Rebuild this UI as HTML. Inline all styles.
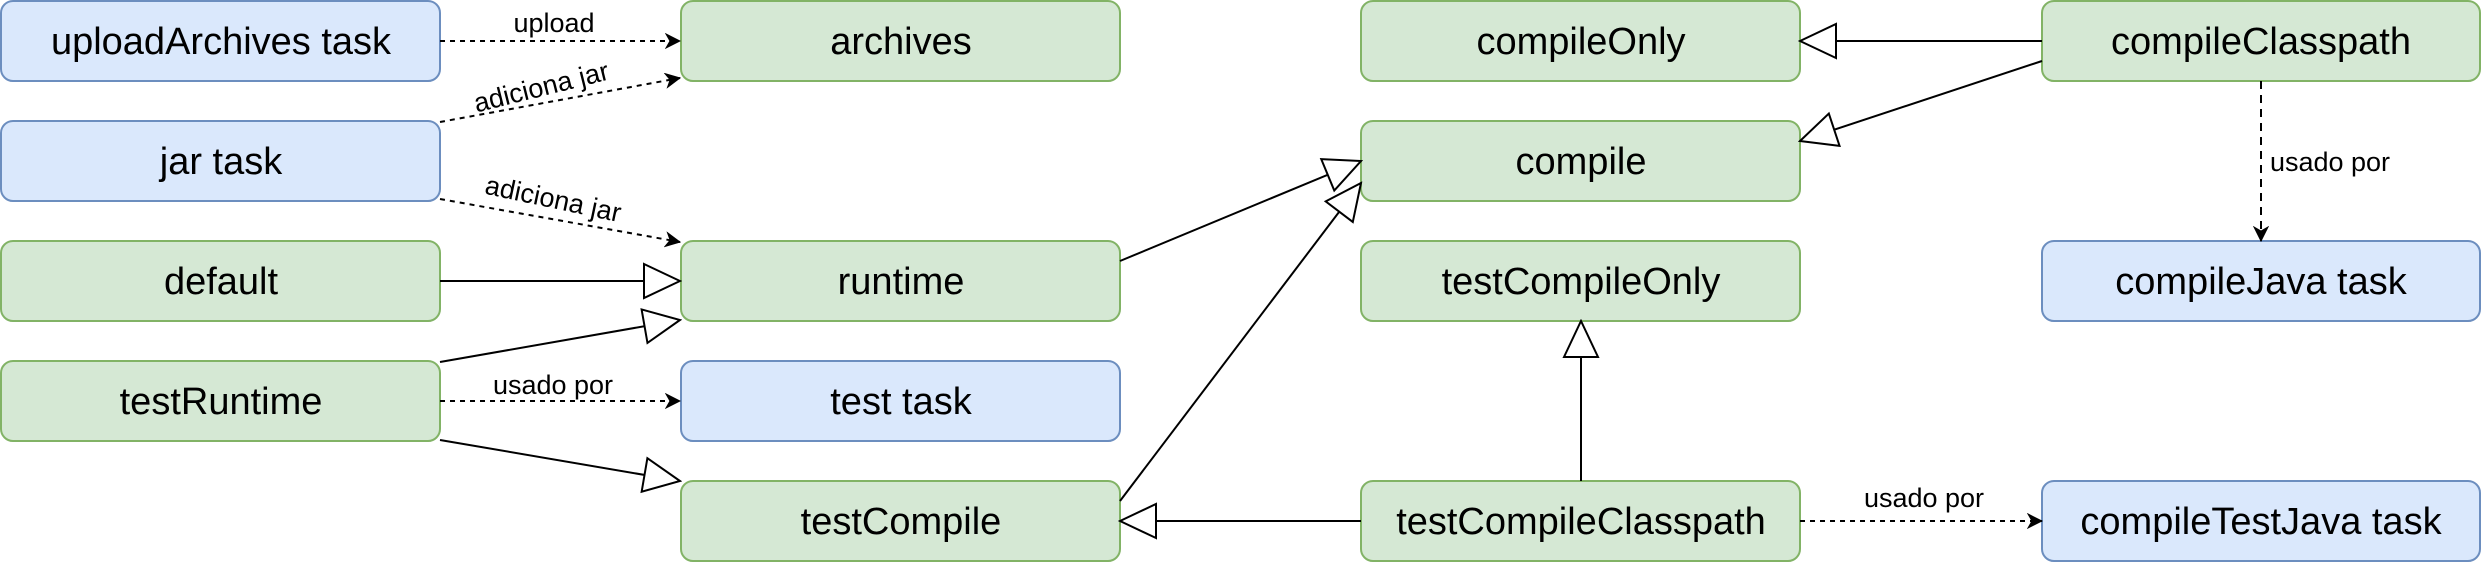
<!DOCTYPE html>
<html><head><meta charset="utf-8"><style>
html,body{margin:0;padding:0;background:#fff;}
svg{display:block;}
text{font-family:"Liberation Sans",sans-serif;fill:#000;}
</style></head><body>
<svg width="2482" height="562" viewBox="0 0 2482 562" xmlns="http://www.w3.org/2000/svg">
<defs>
<marker id="tri" markerUnits="userSpaceOnUse" markerWidth="40" markerHeight="40" viewBox="0 0 40 40" refX="38" refY="20" orient="auto">
<path d="M2,3 L38,20 L2,37 Z" fill="#fff" stroke="#000" stroke-width="2"/>
</marker>
<marker id="arr" markerUnits="userSpaceOnUse" markerWidth="16" markerHeight="16" viewBox="0 0 16 16" refX="15" refY="8" orient="auto">
<path d="M1,1 L15,8 L1,15 L5,8 Z" fill="#000" stroke="#000" stroke-width="1"/>
</marker>
</defs>
<g stroke-width="2">
<rect x="1" y="1" width="439" height="80" rx="12" fill="#dae8fc" stroke="#6c8ebf"/>
<rect x="1" y="121" width="439" height="80" rx="12" fill="#dae8fc" stroke="#6c8ebf"/>
<rect x="1" y="241" width="439" height="80" rx="12" fill="#d5e8d4" stroke="#82b366"/>
<rect x="1" y="361" width="439" height="80" rx="12" fill="#d5e8d4" stroke="#82b366"/>
<rect x="681" y="1" width="439" height="80" rx="12" fill="#d5e8d4" stroke="#82b366"/>
<rect x="681" y="241" width="439" height="80" rx="12" fill="#d5e8d4" stroke="#82b366"/>
<rect x="681" y="361" width="439" height="80" rx="12" fill="#dae8fc" stroke="#6c8ebf"/>
<rect x="681" y="481" width="439" height="80" rx="12" fill="#d5e8d4" stroke="#82b366"/>
<rect x="1361" y="1" width="439" height="80" rx="12" fill="#d5e8d4" stroke="#82b366"/>
<rect x="1361" y="121" width="439" height="80" rx="12" fill="#d5e8d4" stroke="#82b366"/>
<rect x="1361" y="241" width="439" height="80" rx="12" fill="#d5e8d4" stroke="#82b366"/>
<rect x="1361" y="481" width="439" height="80" rx="12" fill="#d5e8d4" stroke="#82b366"/>
<rect x="2042" y="1" width="438" height="80" rx="12" fill="#d5e8d4" stroke="#82b366"/>
<rect x="2042" y="241" width="438" height="80" rx="12" fill="#dae8fc" stroke="#6c8ebf"/>
<rect x="2042" y="481" width="438" height="80" rx="12" fill="#dae8fc" stroke="#6c8ebf"/>
</g>
<g font-size="38" text-anchor="middle">
<text x="221" y="54">uploadArchives task</text>
<text x="221" y="174">jar task</text>
<text x="221" y="294">default</text>
<text x="221" y="414">testRuntime</text>
<text x="901" y="54">archives</text>
<text x="901" y="294">runtime</text>
<text x="901" y="414">test task</text>
<text x="901" y="534">testCompile</text>
<text x="1581" y="54">compileOnly</text>
<text x="1581" y="174">compile</text>
<text x="1581" y="294">testCompileOnly</text>
<text x="1581" y="534">testCompileClasspath</text>
<text x="2261" y="54">compileClasspath</text>
<text x="2261" y="294">compileJava task</text>
<text x="2261" y="534">compileTestJava task</text>
</g>
<g fill="none" stroke="#000" stroke-width="2">
<path d="M440,41 L680,41" stroke-dasharray="5 5" marker-end="url(#arr)"/>
<path d="M440,122 L680,78" stroke-dasharray="5 5" marker-end="url(#arr)"/>
<path d="M440,199 L680,242" stroke-dasharray="5 5" marker-end="url(#arr)"/>
<path d="M440,401 L680,401" stroke-dasharray="5 5" marker-end="url(#arr)"/>
<path d="M1800,521 L2042,521" stroke-dasharray="5 5" marker-end="url(#arr)"/>
<path d="M2261,81 L2261,241" stroke-dasharray="8 6" marker-end="url(#arr)"/>
<path d="M440,281 L680,281" marker-end="url(#tri)"/>
<path d="M440,362 L680,320" marker-end="url(#tri)"/>
<path d="M440,440 L680,481" marker-end="url(#tri)"/>
<path d="M1120,261 L1361,161" marker-end="url(#tri)"/>
<path d="M1120,501 L1361,183" marker-end="url(#tri)"/>
<path d="M1361,521 L1120,521" marker-end="url(#tri)"/>
<path d="M1581,481 L1581,321" marker-end="url(#tri)"/>
<path d="M2042,41 L1800,41" marker-end="url(#tri)"/>
<path d="M2042,61 L1800,141" marker-end="url(#tri)"/>
</g>
<g font-size="27" text-anchor="middle">
<rect x="504" y="8" width="100" height="28" fill="#fff"/>
<text x="554" y="32">upload</text>
<text x="542" y="96" transform="rotate(-14 542 90)">adiciona jar</text>
<text x="553" y="208" transform="rotate(12 553 200)">adiciona jar</text>
<rect x="486" y="370" width="134" height="28" fill="#fff"/>
<text x="553" y="394">usado por</text>
<rect x="2262" y="148" width="136" height="30" fill="#fff"/>
<text x="2330" y="171">usado por</text>
<rect x="1856" y="484" width="136" height="28" fill="#fff"/>
<text x="1924" y="507">usado por</text>
</g>
</svg>
</body></html>
